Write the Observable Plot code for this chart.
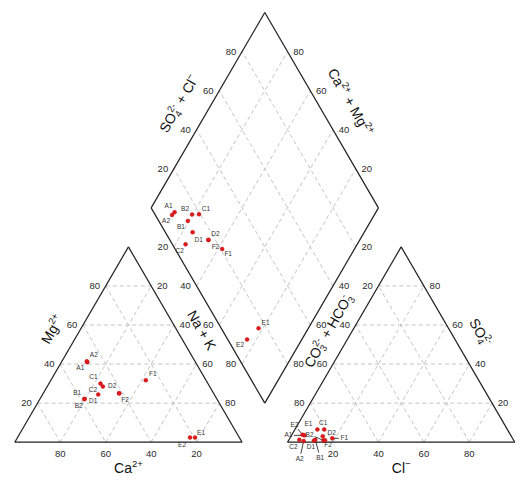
<!DOCTYPE html>
<html><head><meta charset="utf-8">
<script src="https://cdn.jsdelivr.net/npm/d3@7"></script>
<script src="https://cdn.jsdelivr.net/npm/@observablehq/plot@0.6"></script>
<style>body{margin:0;background:#fff}</style>
</head><body><div id="chart"></div>
<script>
// ---- data (percent of meq) ----
const samples = ["A1","A2","B1","B2","C1","C2","D1","D2","E1","E2","F1","F2"];
const ca   = [47.6,47.6,58.4,58.2,47.3,47.0,51.1,41.5,19.5,21.7,26.5,41.6];
const mg   = [41.0,41.4,22.1,22.1,30.0,28.5,24.4,25.1, 2.4, 2.4,31.7,25.0];
const naK  = [11.4,11.0,19.5,19.7,22.7,24.5,24.5,33.4,78.1,75.9,41.8,33.4];
const cl   = [ 5.7, 6.8,11.6,15.4,12.9, 4.6,11.2,14.0, 9.9, 4.7,18.7,16.0];
const so4  = [ 3.5, 0.6, 1.2, 0.9, 6.5, 1.2, 0.8, 3.0, 6.5, 3.8, 2.0, 1.0];
const hco3 = [90.8,92.6,87.2,83.7,80.6,94.2,88.0,83.0,83.6,91.5,79.3,83.0];
const ticks = [20, 40, 60, 80];

// ---- label placement (pixel offsets, styling only) ----
const catOff = {A1:[-7,6],A2:[7,-6],B1:[-7,-6],B2:[-6,7],C1:[-7,-7],C2:[-10,3],D1:[-5,6],D2:[-7,-7],E1:[6,-5],E2:[-8,7],F1:[7,-6],F2:[6,7]};
const dmdOff = {A1:[-6,-6],A2:[-6,6],B1:[-7,6],B2:[-7,-6],C1:[7,-5],C2:[-6,7],D1:[6,8],D2:[7,-6],E1:[7,-5],E2:[-7,5],F1:[6,5],F2:[7,7]};
const anOff  = {A1:[-16,0],A2:[-4,18],B1:[5,18],B2:[-14,-6],C1:[-1,-7],C2:[-6,7],D1:[-3,6],D2:[9,-3],E1:[-9,-6],E2:[-8,-10],F1:[12,0],F2:[3,5]};
const leaders = new Set(["A1","A2","B1","B2","E2","F1"]);

// ---- geometry ----
const W = 532, HT = 482;
const X0 = -6.29, X1 = 227.79, Y0 = -17.87, Y1 = 195.87;
const SX = W / (X1 - X0), SY = HT / (Y1 - Y0);
const H = Math.sqrt(3) / 2, GAP = 20;
const cat = (c, m, n) => [n + m / 2, m * H];
const an = (c, s) => [100 + GAP + c + s / 2, s * H];
const B = [100 + GAP / 2, GAP * H];
const dm = (C, S) => [B[0] + (S - C) / 2, B[1] + H * (S + C)];
const toPx = ([u, v]) => [(u - X0) * SX, (Y1 - v) * SY];
const toData = ([px, py]) => [px / SX + X0, Y1 - py / SY];
const offset = (p, [dx, dy], f = 1) => { const q = toPx(p); return toData([q[0] + dx * f, q[1] + dy * f]); };

// grid lines
const grid = [];
for (const k of ticks) {
  grid.push([cat(100 - k, k, 0), cat(0, k, 100 - k)]);
  grid.push([cat(k, 100 - k, 0), cat(k, 0, 100 - k)]);
  grid.push([cat(100 - k, 0, k), cat(0, 100 - k, k)]);
  grid.push([an(0, k), an(100 - k, k)]);
  grid.push([an(k, 0), an(k, 100 - k)]);
  grid.push([an(100 - k, 0), an(0, 100 - k)]);
  grid.push([dm(0, k), dm(100, k)]);
  grid.push([dm(k, 0), dm(k, 100)]);
}
// outlines
const polys = [
  [cat(100,0,0), cat(0,0,100), cat(0,100,0)],
  [an(0,0), an(100,0), an(0,100)],
  [dm(0,0), dm(0,100), dm(100,100), dm(100,0)]
];
const edges = polys.flatMap(p => p.map((q, i) => [q, p[(i + 1) % p.length]]));

// tick label groups
const tk = (f) => ticks.map(k => { const p = f(k); return {x: p[0], y: p[1], t: String(k)}; });
const tickGroups = [
  {d: tk(k => cat(k, 0, 100 - k)), dx: 0, dy: 12},
  {d: tk(k => cat(100 - k, k, 0)), dx: -11, dy: 0},
  {d: tk(k => cat(0, 100 - k, k)), dx: 11, dy: 0},
  {d: tk(k => an(k, 0)), dx: 0, dy: 12},
  {d: tk(k => an(100 - k, k)), dx: 11, dy: 0},
  {d: tk(k => an(0, 100 - k)), dx: -11, dy: 0},
  {d: tk(k => dm(100, k)), dx: -11, dy: 0},
  {d: tk(k => dm(k, 100)), dx: 11, dy: 0},
  {d: tk(k => dm(100 - k, 0)), dx: -11, dy: 0},
  {d: tk(k => dm(0, 100 - k)), dx: 11, dy: 0}
];

// points and labels
const pts = [], labs = [], links = [];
samples.forEach((s, i) => {
  const pc = cat(ca[i], mg[i], naK[i]);
  const pa = an(cl[i], so4[i]);
  const pd = dm(ca[i] + mg[i], cl[i] + so4[i]);
  for (const [p, off, kind] of [[pc, catOff[s], "c"], [pa, anOff[s], "a"], [pd, dmdOff[s], "d"]]) {
    pts.push({x: p[0], y: p[1]});
    const l = offset(p, off);
    labs.push({x: l[0], y: l[1], t: s});
    if (kind === "a" && leaders.has(s)) {
      const len = Math.hypot(off[0], off[1]);
      const e = offset(p, off, (len - 5.5) / len);
      links.push({x1: p[0], y1: p[1], x2: e[0], y2: e[1]});
    }
  }
});

// axis titles
function titleAt(p0, p1, t, off, text, rot) {
  const a = toPx(p0), b = toPx(p1);
  const L = Math.hypot(b[0] - a[0], b[1] - a[1]);
  const d = [(b[0] - a[0]) / L, (b[1] - a[1]) / L];
  const n = [d[1], -d[0]];
  const q = toData([a[0] + d[0] * L * t + n[0] * off, a[1] + d[1] * L * t + n[1] * off]);
  return {x: q[0], y: q[1], t: text, r: rot};
}
const titles = [
  titleAt(cat(0,0,100), cat(100,0,0), 0.5, 26, "Ca2+", 0),
  titleAt(cat(100,0,0), cat(0,100,0), 0.515, 24, "Mg2+", -60),
  titleAt(cat(0,100,0), cat(0,0,100), 0.482, 21, "Na + K", 60),
  titleAt(an(100,0), an(0,0), 0.5, 26, "Cl-", 0),
  titleAt(an(0,0), an(0,100), 0.517, 20.5, "CO32- + HCO3-", -60),
  titleAt(an(0,100), an(100,0), 0.502, 25, "SO42-", 60),
  titleAt(dm(100,0), dm(100,100), 0.46, 28, "SO42- + Cl-", -60),
  titleAt(dm(100,100), dm(0,100), 0.532, 28.5, "Ca2+ + Mg2+", 60)
];
const richMap = {
  "Ca2+": [["Ca","n"],["2+","sup"]],
  "Mg2+": [["Mg","n"],["2+","sup"]],
  "Cl-": [["Cl","n"],["\u2212","sup"]],
  "SO42-": [["SO","n"],["4","sub"],["2-","sup",5]],
  "SO42- + Cl-": [["SO","n"],["4","sub"],["2-","sup",5],[" + Cl","n"],["\u2212","sup"]],
  "CO32- + HCO3-": [["CO","n"],["3","sub"],["2-","sup",5],[" + HCO","n"],["3","sub"],["-","sup",5]],
  "Ca2+ + Mg2+": [["Ca","n"],["2+","sup"],[" + Mg","n"],["2+","sup"]]
};

const FONT = "'Liberation Sans', Arial, Helvetica, sans-serif";
const chart = Plot.plot({
  width: W, height: HT, margin: 0,
  x: {domain: [X0, X1], axis: null},
  y: {domain: [Y0, Y1], axis: null},
  style: {fontFamily: FONT, background: "#fff", color: "#222"},
  marks: [
    Plot.link(grid, {x1: d => d[0][0], y1: d => d[0][1], x2: d => d[1][0], y2: d => d[1][1],
      stroke: "#bdbdbd", strokeWidth: 0.9, strokeDasharray: "4,3"}),
    Plot.link(edges, {x1: d => d[0][0], y1: d => d[0][1], x2: d => d[1][0], y2: d => d[1][1],
      stroke: "#1e1e1e", strokeWidth: 1.2}),
    ...tickGroups.map(g => Plot.text(g.d, {x: "x", y: "y", text: "t", dx: g.dx, dy: g.dy, fontSize: 9.5, fill: "#2a2a2a"})),
    Plot.link(links, {x1: "x1", y1: "y1", x2: "x2", y2: "y2", stroke: "#111", strokeWidth: 0.8}),
    Plot.dot(pts, {x: "x", y: "y", r: 2, fill: "#e3191c", stroke: "#b01010", strokeWidth: 0.4}),
    Plot.text(labs, {x: "x", y: "y", text: "t", fontSize: 6.5, fill: "#333"}),
    Plot.text(titles, {x: "x", y: "y", text: "t", rotate: "r", fontSize: 14, fill: "#111"})
  ]
});

d3.select(chart).selectAll("text").each(function() {
  const key = this.textContent;
  const segs = richMap[key];
  if (!segs) return;
  const t = d3.select(this);
  t.text(null);
  let shift = 0;
  for (const [s, kind, back] of segs) {
    const target = kind === "sup" ? -6 : kind === "sub" ? 3 : 0;
    const ts = t.append("tspan").text(s).attr("dy", target - shift);
    if (kind !== "n") ts.attr("font-size", 9.5);
    if (back) ts.attr("dx", -back);
    shift = target;
  }
});
document.getElementById("chart").appendChild(chart);
</script>
</body></html>
